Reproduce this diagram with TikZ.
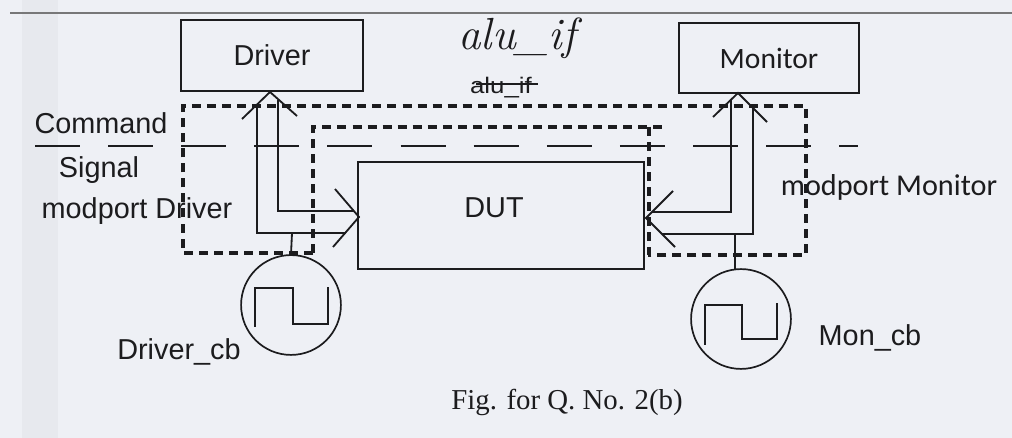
\documentclass[tikz,border=0pt]{standalone}
\usepackage{fontspec}
\setmainfont{Liberation Sans}
\newfontfamily\calib{Carlito}
\newfontfamily\timesf{Liberation Serif}
\newfontfamily\lmr{Latin Modern Roman}
\definecolor{bgc}{RGB}{238,240,245}
\definecolor{ink}{RGB}{28,28,30}
\definecolor{bandc}{RGB}{231,233,238}
\begin{document}
\begin{tikzpicture}[x=0.025cm,y=-0.025cm,
  every node/.style={text=ink},
  lab/.style={font=\fontsize{20.5}{24}\selectfont, inner sep=0pt},
  boxn/.style={draw=ink, line width=1.2pt, inner sep=0pt, font=\fontsize{20.5}{24}\selectfont},
  clk/.style={draw=ink, line width=1.2pt, circle, minimum size=71pt, inner sep=0pt},
  wire/.style={draw=ink, line width=1.3pt},
  modp/.style={draw=ink, line width=2.4pt, dash pattern=on 6.4pt off 4.3pt},
  sep/.style={draw=ink, line width=1.2pt, dash pattern=on 32pt off 20pt}]
\useasboundingbox (0,0) rectangle (1012,438);
\fill[bgc] (0,0) rectangle (1012,438);
\fill[bandc] (22,0) rectangle (58,438);
\draw[ink!60, line width=0.8pt] (10,13) -- (1012,13);

% boxes
\node[boxn, minimum width=129.5pt, minimum height=50.5pt] (drv) at (272,55.5) {Driver};
\node[boxn, minimum width=128pt, minimum height=49.8pt, font=\calib\fontsize{21}{24}\selectfont] (mon) at (769,58) {Monitor};
\node[boxn, minimum width=203.4pt, minimum height=76.1pt] (dut) at (501,215.5) {};
\node[lab] (dutl) at (494,208) {DUT};

% interface names
\node[font=\lmr\itshape\fontsize{32}{34}\selectfont, inner sep=0pt] (aluh) at (517,38) {alu\_if};
\node[font=\fontsize{16}{18}\selectfont, inner sep=0pt, xscale=1.15] (alus) at (501,88) {alu\_if};
\draw[ink, line width=1.1pt] (476,84) -- (538,84);

% modport regions
\draw[modp] (313,253) -- (183,253) -- (183,106) -- (806,106) -- (806,255) -- (648,255);
\draw[modp] (313,253) -- (313,127) -- (665,127);
\draw[modp] (649,127) -- (649,255);

% command / signal separator
\draw[sep] (35,146) -- (858,146);

% labels
\node[lab] (cmd) at (101,123) {Command};
\node[lab] (sig) at (99,170) {Signal};
\node[lab] (mpd) at (137,211) {modport Driver};
\node[lab, font=\calib\fontsize{21.5}{24}\selectfont] (mpm) at (889,187) {modport Monitor};

% clocks
\node[clk] (dclk) at (291,305) {};
\node[clk] (mclk) at (741,319) {};
\draw[wire] (255,327) -- (255,288) -- (293,288) -- (293,324) -- (328,324) -- (328,287);
\draw[wire] (705,345) -- (705,305) -- (742,305) -- (742,339) -- (777,339) -- (777,303);
\node[lab] (dcb) at (179,352) {Driver\_cb};
\node[lab] (mcb) at (870,338) {Mon\_cb};

% driver bus
\coordinate (da) at (270,92);
\coordinate (dd) at (359,217);
\draw[wire] (242,119) -- (da) -- (297,116);
\draw[wire] (257,105) -- (257,233) -- (346,233);
\draw[wire] (278,100) -- (278,211) -- (354,211);
\draw[wire] (335,189) -- (dd) -- (333,247);
\draw[wire] (292,233) -- (dclk.north);

% monitor bus
\coordinate (ma) at (738,93);
\coordinate (md) at (646,218);
\draw[wire] (713,117) -- (ma) -- (767,122);
\draw[wire] (731,100) -- (731,212) -- (652,212);
\draw[wire] (753,105) -- (753,234) -- (662,234);
\draw[wire] (673,191) -- (md) -- (675,247);
\draw[wire] (735,234) -- (735,269);

% caption
\node[font=\timesf\fontsize{20.5}{24}\selectfont, inner sep=0pt] (cap) at (567,402) {Fig. for Q. No. 2(b)};
\end{tikzpicture}
\end{document}
